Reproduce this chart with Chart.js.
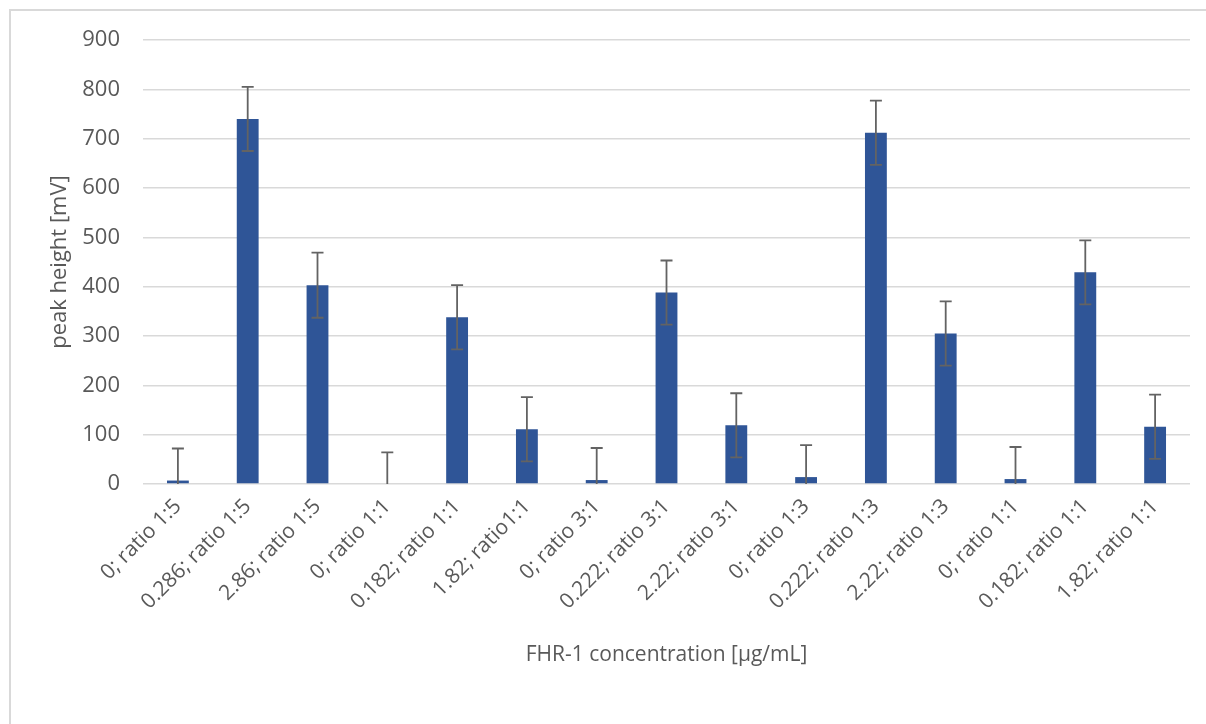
<!DOCTYPE html>
<html>
<head>
<meta charset="utf-8">
<title>FHR-1 peak height</title>
<script src="https://cdn.jsdelivr.net/npm/chart.js@4/dist/chart.umd.min.js"></script>
<style>
  html, body { margin: 0; padding: 0; background: #fff; overflow: hidden; }
  #frame { position: absolute; left: 9px; top: 9px; width: 1300px; height: 800px; border: 2px solid #d9d9d9; }
  #wrap { position: absolute; left: 0; top: 0; width: 1206px; height: 724px; }
</style>
</head>
<body>
<div id="frame"></div>
<div id="wrap"><canvas id="grafico"></canvas></div>
<script>
const categorias = [
    '0; ratio 1:5', '0.286; ratio 1:5', '2.86; ratio 1:5',
    '0; ratio 1:1', '0.182; ratio 1:1', '1.82; ratio1:1',
    '0; ratio 3:1', '0.222; ratio 3:1', '2.22; ratio 3:1',
    '0; ratio 1:3', '0.222; ratio 1:3', '2.22; ratio 1:3',
    '0; ratio 1:1', '0.182; ratio 1:1', '1.82; ratio 1:1'
];
const alturas = [7, 740, 403, 0, 338, 111, 8, 388, 119, 14, 712, 305, 10, 429, 116];
const desvios = [65, 65, 66, 64, 65, 65, 65, 65, 65, 65, 65, 65, 65, 65, 65];
const ticksY = [0, 100, 200, 300, 400, 500, 600, 700, 800, 900];

const corTexto = '#595959';
const fonte = "'Open Sans', 'Noto Sans', sans-serif";

// barras de erro desenhadas com as escalas do próprio gráfico
const barrasErro = {
    id: 'barrasErro',
    afterDatasetsDraw(chart) {
        const ctx = chart.ctx;
        const y = chart.scales.y;
        const meta = chart.getDatasetMeta(0);
        ctx.save();
        ctx.strokeStyle = '#636363';
        ctx.lineWidth = 1.8;
        meta.data.forEach((barra, i) => {
            const x = barra.x;
            const topo = alturas[i] + desvios[i];
            const baixo = Math.max(0, alturas[i] - desvios[i]);
            const yTopo = y.getPixelForValue(topo);
            const yBaixo = y.getPixelForValue(baixo);
            ctx.beginPath();
            ctx.moveTo(x, yTopo);
            ctx.lineTo(x, yBaixo);
            ctx.moveTo(x - 6, yTopo);
            ctx.lineTo(x + 6, yTopo);
            if (alturas[i] - desvios[i] > 0) {
                ctx.moveTo(x - 6, yBaixo);
                ctx.lineTo(x + 6, yBaixo);
            }
            ctx.stroke();
        });
        ctx.restore();
    }
};

const ctx = document.getElementById('grafico').getContext('2d');
new Chart(ctx, {
    type: 'bar',
    data: {
        labels: categorias,
        datasets: [{
            label: 'peak height',
            data: alturas,
            backgroundColor: '#2f5597',
            borderWidth: 0,
            barPercentage: 1,
            categoryPercentage: 0.313
        }]
    },
    options: {
        responsive: true,
        maintainAspectRatio: false,
        animation: false,
        layout: { padding: { left: 0, right: 16, top: 40, bottom: 0 } },
        plugins: {
            legend: { display: false },
            tooltip: { enabled: false }
        },
        scales: {
            x: {
                grid: { display: false, drawTicks: false },
                border: { display: false },
                ticks: {
                    color: corTexto,
                    font: { family: fonte, size: 21 },
                    minRotation: 45,
                    maxRotation: 45,
                    padding: 10,
                    autoSkip: false
                },
                title: {
                    display: true,
                    text: 'FHR-1 concentration [μg/mL]',
                    color: corTexto,
                    font: { family: fonte, size: 21 },
                    padding: { top: 0, bottom: 56 }
                },
                afterFit(scale) { scale.height = 724 - 484; }
            },
            y: {
                min: 0,
                max: 900,
                afterBuildTicks(scale) { scale.ticks = ticksY.map(v => ({ value: v })); },
                grid: { color: '#d9d9d9', lineWidth: 1.5, drawTicks: false },
                border: { display: false },
                ticks: {
                    color: corTexto,
                    font: { family: fonte, size: 22 },
                    padding: 23
                },
                title: {
                    display: true,
                    text: 'peak height [mV]',
                    color: corTexto,
                    font: { family: fonte, size: 22 },
                    padding: { top: 47, bottom: 0 }
                },
                afterFit(scale) { scale.width = 143; }
            }
        }
    },
    plugins: [barrasErro]
});
</script>
</body>
</html>
